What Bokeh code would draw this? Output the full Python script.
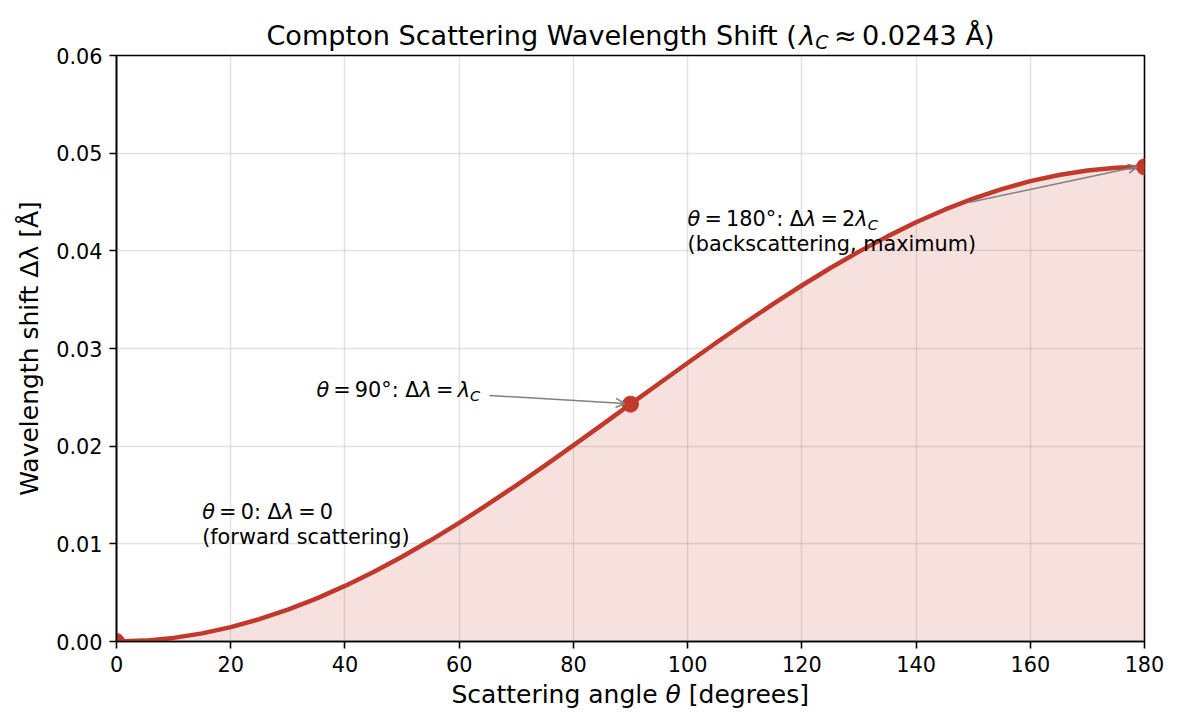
from bokeh.embed import file_html
from bokeh.layouts import column
from bokeh.models import Arrow, FixedTicker, Label, OpenHead, PrintfTickFormatter, Range1d
from bokeh.plotting import figure
from bokeh.resources import INLINE

# Scattering angle (degrees) and Compton shift (Angstrom)
theta_deg = [0, 5, 10, 15, 20, 25, 30, 35, 40, 45, 50, 55, 60, 65, 70, 75, 80, 85, 90,
             95, 100, 105, 110, 115, 120, 125, 130, 135, 140, 145, 150, 155, 160, 165,
             170, 175, 180]
shift_angstrom = [0.0, 0.00009, 0.00037, 0.00083, 0.00147, 0.00228, 0.00326, 0.00439,
                  0.00569, 0.00712, 0.00868, 0.01036, 0.01215, 0.01403, 0.01599, 0.01801,
                  0.02008, 0.02218, 0.02430, 0.02642, 0.02852, 0.03059, 0.03261, 0.03457,
                  0.03645, 0.03824, 0.03992, 0.04148, 0.04292, 0.04421, 0.04534, 0.04632,
                  0.04714, 0.04777, 0.04823, 0.04851, 0.04860]

# Highlighted special angles
key_theta = [0, 90, 180]
key_shift = [0.0, 0.0243, 0.0486]

x_ticks = [0, 20, 40, 60, 80, 100, 120, 140, 160, 180]
y_ticks = [0.0, 0.01, 0.02, 0.03, 0.04, 0.05, 0.06]

RED = "#c0392b"
FONT = "DejaVu Sans"
NBSP = "\u00a0"

# Page geometry (pixels)
W, H = 1178, 727
FL, FR, FT, FB = 116, 1144, 55, 641      # plot frame edges
HT = 52                                  # title strip height
OV_T = 9                                 # title strip overlaps the plot's top border
OV_B = 8                                 # x-label strip overlaps the plot's bottom border
BB = 42                                  # bottom border of the main plot (tick labels)
TOP = HT - OV_T                          # page y where the main plot starts
HM = (FT - TOP) + (FB - FT) + BB         # main plot height
HX = H - TOP - HM + OV_B                 # x-label strip height

X0, X1, Y0, Y1 = 0, 180, 0.0, 0.06
PX_X = (X1 - X0) / (FR - FL)             # data units per pixel, horizontal
PX_Y = (Y1 - Y0) / (FB - FT)             # data units per pixel, vertical
MID = 0.346                              # em-box middle above the baseline (DejaVu Sans)

p = figure(width=W, height=HM, output_backend="svg", toolbar_location=None,
           x_range=Range1d(X0, X1), y_range=Range1d(Y0, Y1),
           min_border_left=FL, min_border_right=W - FR,
           min_border_top=FT - TOP, min_border_bottom=BB)
p.background_fill_color = "white"
p.border_fill_color = None
p.outline_line_color = "black"
p.outline_line_width = 1.6

for ax in (p.xaxis[0], p.yaxis[0]):
    ax.axis_line_color = "black"
    ax.axis_line_width = 1.6
    ax.major_tick_line_color = "black"
    ax.major_tick_line_width = 1.6
    ax.major_tick_out = 7
    ax.major_tick_in = 0
    ax.minor_tick_line_color = None
    ax.major_label_text_font = FONT
    ax.major_label_text_font_size = "20.8px"
    ax.major_label_text_color = "black"
    ax.major_label_standoff = 7

p.xaxis.ticker = FixedTicker(ticks=x_ticks)
p.yaxis.ticker = FixedTicker(ticks=y_ticks)
p.yaxis.formatter = PrintfTickFormatter(format="%.2f")

p.yaxis.axis_label = "Wavelength shift \u0394\u03bb [\u00c5]"
p.yaxis.axis_label_text_font = FONT
p.yaxis.axis_label_text_font_size = "25px"
p.yaxis.axis_label_text_font_style = "normal"
p.yaxis.axis_label_text_color = "black"
p.yaxis.axis_label_standoff = 9

p.grid.grid_line_color = "#b0b0b0"
p.grid.grid_line_alpha = 0.35
p.grid.grid_line_width = 1.5

# Shaded area, curve and key points
p.varea(x=theta_deg, y1=[0.0] * len(theta_deg), y2=shift_angstrom,
        fill_color=RED, fill_alpha=0.15)
p.line(theta_deg, shift_angstrom, line_color=RED, line_width=4.5, line_join="round")
p.scatter(key_theta, key_shift, size=16, fill_color=RED, line_color=RED)


def text_strip(height, top, **kw):
    """Blank strip whose frame lines up with the plot frame; data x/y are page pixels."""
    f = figure(width=W, height=height, output_backend="svg", toolbar_location=None,
               x_axis_type=None, y_axis_type=None,
               x_range=Range1d(FL, FR), y_range=Range1d(top + height, top),
               min_border_left=FL, min_border_right=W - FR,
               min_border_top=0, min_border_bottom=0, **kw)
    f.outline_line_color = None
    f.background_fill_color = None
    f.border_fill_color = None
    return f


title_fig = text_strip(HT, 0, margin=(0, 0, -OV_T, 0))
xlab_fig = text_strip(HX, TOP + HM - OV_B, margin=(-OV_B, 0, 0, 0))

# ---- text helpers (DejaVu Sans advance widths, units per 2048 em) ----
ADV = {" ": 651, NBSP: 651, "\u2009": 410, "(": 799, ")": 799, "[": 799, "]": 799,
       ":": 690, ",": 651, ".": 651, "=": 1716, "\u2248": 1716, "\u00b0": 1024,
       "\u0394": 1401, "\u00c5": 1401, "\u03b8": 1255, "\u03bb": 1212, "C": 1430,
       "S": 1300, "W": 2025, "a": 1255, "b": 1300, "c": 1126, "d": 1300, "e": 1260,
       "f": 721, "g": 1300, "h": 1298, "i": 569, "k": 1186, "l": 569, "m": 1995,
       "n": 1298, "o": 1253, "p": 1300, "r": 842, "s": 1067, "t": 803, "u": 1298,
       "v": 1212, "w": 1675, "x": 1212, "y": 1212}
for d in "0123456789":
    ADV[d] = 1303


def text_width(s, size):
    return sum(ADV.get(ch, 1250) for ch in s) / 2048 * size


def rich(fig, x, y, pieces, size, ux=1.0, uy=-1.0, center=False):
    """Lay out (text, italic, subscript) pieces along one baseline at (x, y).

    ux: data units per pixel to the right; uy: data units per pixel upwards.
    """
    sizes = [size * 0.7 if sub else size for _, _, sub in pieces]
    widths = [text_width(t, s) for (t, _, _), s in zip(pieces, sizes)]
    off = -sum(widths) / 2 if center else 0.0
    for (t, it, sub), s, w in zip(pieces, sizes, widths):
        drop = 0.16 * size if sub else 0.0
        lift = MID * s - drop
        fig.add_layout(Label(x=x + off * ux, y=y + lift * uy, text=t,
                             text_font=FONT, text_font_size=f"{s:.1f}px",
                             text_font_style="italic" if it else "normal",
                             text_color="black", text_align="left",
                             text_baseline="middle"))
        off += w


N, I, S = (False, False), (True, False), (True, True)


def pc(t, kind):
    return (t, kind[0], kind[1])


# Title
rich(title_fig, (FL + FR) / 2, 44,
     [pc("Compton Scattering Wavelength Shift (", N), pc("\u03bb", I), pc("C", S),
      pc("\u2009\u2248\u20090.0243 \u00c5)", N)], 27.1, center=True)

# x-axis title
rich(xlab_fig, (FL + FR) / 2, 703,
     [pc("Scattering angle" + NBSP, N), pc("\u03b8", I), pc(NBSP + "[degrees]", N)], 25,
     center=True)

# Annotations inside the plot
ANN = 20.8
LINE = 1.2 * ANN * PX_Y

rich(p, 15, 0.010 + LINE, [pc("\u03b8", I), pc("\u2009=\u20090: \u0394", N),
                           pc("\u03bb", I), pc("\u2009=\u20090", N)], ANN, PX_X, PX_Y)
rich(p, 15, 0.010, [pc("(forward scattering)", N)], ANN, PX_X, PX_Y)

rich(p, 35, 0.025, [pc("\u03b8", I), pc("\u2009=\u200990\u00b0: \u0394", N),
                    pc("\u03bb", I), pc("\u2009=\u2009", N), pc("\u03bb", I),
                    pc("C", S)], ANN, PX_X, PX_Y)

rich(p, 100, 0.040 + LINE, [pc("\u03b8", I), pc("\u2009=\u2009180\u00b0: \u0394", N),
                            pc("\u03bb", I), pc("\u2009=\u20092", N), pc("\u03bb", I),
                            pc("C", S)], ANN, PX_X, PX_Y)
rich(p, 100, 0.040, [pc("(backscattering, maximum)", N)], ANN, PX_X, PX_Y)

# Arrows from the labels to the marked points
arrow_start_x = [65.3, 149.2]
arrow_start_y = [0.02519, 0.04495]
arrow_end_x = [89.0, 178.7]
arrow_end_y = [0.02437, 0.04860]
for xs, ys, xe, ye in zip(arrow_start_x, arrow_start_y, arrow_end_x, arrow_end_y):
    p.add_layout(Arrow(x_start=xs, y_start=ys, x_end=xe, y_end=ye,
                       line_color="#808080", line_width=1.5,
                       end=OpenHead(size=9, line_color="#808080", line_width=1.5)))

page = column(title_fig, p, xlab_fig, spacing=0)
page.styles = {"background-color": "white"}
open("out.html", "w").write(file_html(page, INLINE))
